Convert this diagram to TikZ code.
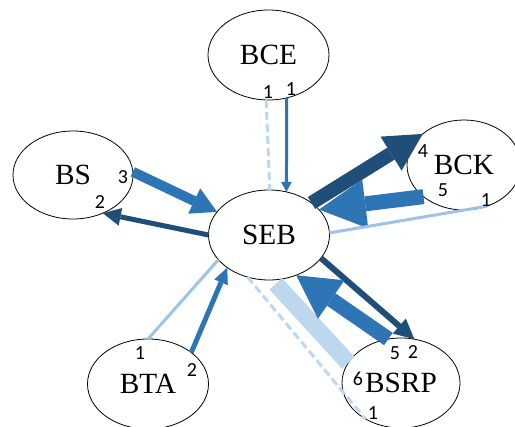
\documentclass[tikz,border=0pt]{standalone}
\usepackage{fontspec}
\setmainfont{Liberation Serif}
\newfontfamily\numfont{Carlito}
\usetikzlibrary{arrows.meta,shapes.geometric}

\definecolor{darkblue}{RGB}{31,78,121}
\definecolor{midblue}{RGB}{46,117,182}
\definecolor{paleblue}{RGB}{157,195,230}
\definecolor{faintblue}{RGB}{189,215,238}

\tikzset{every picture/.style={line width=0.75pt}}

\begin{document}
\begin{tikzpicture}[x=0.75pt,y=0.75pt,yscale=-1,xscale=1,
    bank/.style={draw, ellipse, line width=0.6pt, outer sep=0pt, inner sep=0pt,
      minimum width=90.75pt, minimum height=67.5pt, font=\fontsize{22}{26}\selectfont},
    count/.style={inner sep=0pt, font=\numfont\fontsize{15}{17}\selectfont},
    flow/.style={line width=#1, line cap=butt},
    dashflow/.style={faintblue, line width=2.25pt, dash pattern=on 6pt off 3pt}]
\useasboundingbox (0,0) rectangle (515,427);

% Banks
\node [bank] (bce) at (268.5,55) {BCE};
\node [bank, minimum width=90pt, minimum height=66pt] (bs) at (73,175) {BS};
\node [bank] (seb) at (269,235) {SEB};
\node [bank, minimum width=85.5pt] (bck) at (464,165) {BCK};
\node [bank] (bta) at (148,384) {BTA};
\node [bank, minimum width=88.5pt] (bsrp) at (401,383) {BSRP};

% BCE -- SEB
\draw [dashflow] (bce.-93) -- (seb.89);
\draw [midblue, flow=2.25pt, -{Triangle[length=7.5pt,width=8pt,line width=0pt]}] (bce.-67) -- (seb.68);

% BS -- SEB
\draw [midblue, flow=7.5pt, -{Triangle[length=19pt,width=21pt,line width=0pt]}] (bs.3) -- (seb.156);
\draw [darkblue, flow=3.75pt, -{Triangle[length=13.5pt,width=13.5pt,line width=0pt]}] (seb.180) -- (bs.-52);

% BCK -- SEB
\draw [darkblue, flow=10.5pt, -{Triangle[length=28pt,width=30pt,line width=0pt]}] (seb.37) -- (bck.143);
\draw [midblue, flow=11.25pt, -{Triangle[length=35pt,width=37pt,line width=0pt]}] (bck.-142) -- (seb.27);
\draw [paleblue, flow=2.25pt] (seb.2) -- (bck.-61);

% BSRP -- SEB
\draw [faintblue, flow=12.75pt, shorten <=4pt] (seb.-86) -- (bsrp.159);
\draw [dashflow] (seb.-117) -- (bsrp.-135);
\draw [darkblue, flow=4.5pt, -{Triangle[length=15pt,width=15pt,line width=0pt]}] (seb.-24) -- (bsrp.73);
\draw [midblue, flow=11.25pt, -{Triangle[length=32pt,width=35pt,line width=0pt]}] (bsrp.106) -- (seb.-56);

% BTA -- SEB
\draw [paleblue, flow=2.25pt] (seb.-154) -- (bta.90);
\draw [midblue, flow=3.75pt, -{Triangle[length=12pt,width=11pt,line width=0pt]}] (bta.36) -- (seb.-142);

% Counts
\node [count] (bce-a) at (268,92) {1};
\node [count] (bce-b) at (291,89) {1};
\node [count] (bs-a) at (123,177) {3};
\node [count] (bs-b) at (100,202) {2};
\node [count] (bck-a) at (423,151) {4};
\node [count] (bck-b) at (443,190) {5};
\node [count] (bck-c) at (486,200) {1};
\node [count] (bsrp-a) at (395,353) {5};
\node [count] (bsrp-b) at (413,352) {2};
\node [count] (bsrp-c) at (358,379) {6};
\node [count] (bsrp-d) at (373,413) {1};
\node [count] (bta-a) at (140,353) {1};
\node [count] (bta-b) at (192,370) {2};

\end{tikzpicture}
\end{document}
